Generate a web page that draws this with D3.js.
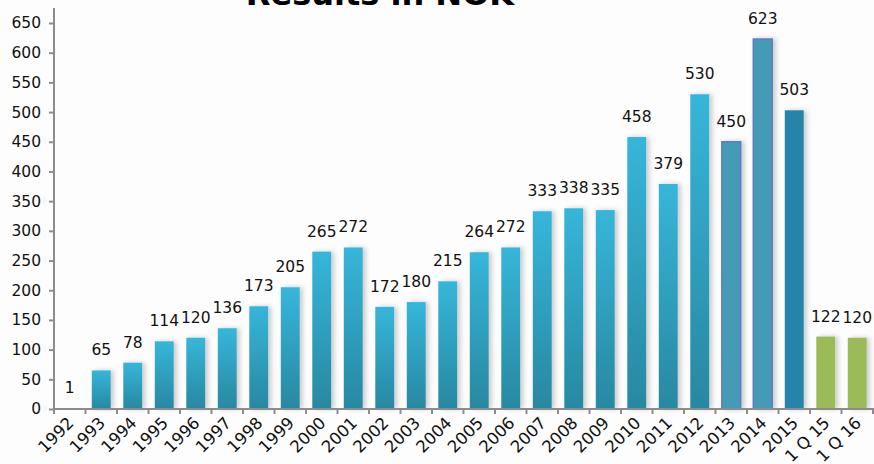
<!DOCTYPE html>
<html>
<head>
<meta charset="utf-8">
<script src="https://cdn.jsdelivr.net/npm/d3@7"></script>
<style>
  html, body { margin: 0; padding: 0; background: #fdfdfd; }
  svg { display: block; font-family: Verdana, "DejaVu Sans", sans-serif; }
</style>
</head>
<body>
<svg id="chart" width="874" height="464"></svg>
<script>
// Annual results (NOK), plus first-quarter figures
const categories = ["1992","1993","1994","1995","1996","1997","1998","1999","2000","2001",
  "2002","2003","2004","2005","2006","2007","2008","2009","2010","2011","2012","2013",
  "2014","2015","1 Q 15","1 Q 16"];
const values = [1,65,78,114,120,136,173,205,265,272,172,180,215,264,272,333,338,335,
  458,379,530,450,623,503,122,120];
const yTicks = [0,50,100,150,200,250,300,350,400,450,500,550,600,650];
const title = "Results in NOK";

const svg = d3.select("#chart");
const margin = { left: 54, right: 1, top: 23, bottom: 55 };
const W = 874, H = 464;

const x = d3.scaleBand().domain(categories)
  .range([margin.left, W - margin.right]).paddingInner(0.4).paddingOuter(0.2);
const y = d3.scaleLinear().domain([0, 650]).range([H - margin.bottom, margin.top]);

const defs = svg.append("defs");
const grad = defs.append("linearGradient").attr("id", "barGrad")
  .attr("x1", 0).attr("y1", 0).attr("x2", 0).attr("y2", 1);
grad.append("stop").attr("offset", "0%").attr("stop-color", "#36b6da");
grad.append("stop").attr("offset", "100%").attr("stop-color", "#2888a1");

const shadow = defs.append("filter").attr("id", "shadow")
  .attr("x", "-30%").attr("y", "-10%").attr("width", "190%").attr("height", "120%");
shadow.append("feDropShadow").attr("dx", 3).attr("dy", 0)
  .attr("stdDeviation", 2.5).attr("flood-color", "#000").attr("flood-opacity", 0.2);

// Title (runs off the top edge)
svg.append("text").attr("x", 380).attr("y", 4.5)
  .attr("text-anchor", "middle").attr("font-weight", "bold").attr("font-size", 32)
  .attr("fill", "#000").text(title);

function fillFor(c) {
  if (c === "2013" || c === "2014") return "#449bb5";
  if (c === "2015") return "#2583a9";
  if (c.startsWith("1 Q")) return "#9bbb59";
  return "url(#barGrad)";
}

// Bars
svg.append("g").selectAll("rect").data(categories).join("rect")
  .attr("x", d => x(d))
  .attr("width", x.bandwidth())
  .attr("y", (d, i) => y(values[i]))
  .attr("height", (d, i) => y(0) - y(values[i]))
  .attr("fill", d => fillFor(d))
  .attr("stroke", d => (d === "2013" || d === "2014") ? "#5a7fc0" : "none")
  .attr("stroke-width", 1.5)
  .attr("filter", "url(#shadow)");

// Value labels
svg.append("g").selectAll("text").data(categories).join("text")
  .attr("x", d => x(d) + x.bandwidth() / 2)
  .attr("y", (d, i) => y(values[i]) - 15)
  .attr("text-anchor", "middle").attr("font-size", 15.5).attr("fill", "#111")
  .text((d, i) => values[i]);

// Y axis
const yAxis = svg.append("g").attr("transform", `translate(${margin.left},0)`)
  .call(d3.axisLeft(y).tickValues(yTicks).tickSize(5).tickPadding(8));
yAxis.selectAll("text").attr("font-size", 15.5).attr("fill", "#111")
  .attr("font-family", "Verdana, 'DejaVu Sans', sans-serif");
yAxis.selectAll("line, path").attr("stroke", "#8c8c8c").attr("stroke-width", 2);
yAxis.select("path").attr("d", `M0,${y(0)}V${8}`);

// X axis: baseline, boundary ticks and slanted category labels
const xg = svg.append("g").attr("transform", `translate(0,${y(0)})`);
xg.append("line").attr("x1", margin.left).attr("x2", W)
  .attr("stroke", "#8c8c8c").attr("stroke-width", 2);
const [r0, r1] = x.range();
const boundary = i => r0 + i * (r1 - r0) / categories.length;
xg.selectAll("line.tick").data(d3.range(categories.length + 1)).join("line")
  .attr("class", "tick")
  .attr("x1", boundary).attr("x2", boundary)
  .attr("y1", 0).attr("y2", 5)
  .attr("stroke", "#8c8c8c").attr("stroke-width", 2);
xg.selectAll("text").data(categories).join("text")
  .attr("transform", d => `translate(${x(d) + x.bandwidth() / 2 + 5},${15}) rotate(-45)`)
  .attr("text-anchor", "end").attr("font-size", 16.5).attr("fill", "#111")
  .text(d => d);
</script>
</body>
</html>
